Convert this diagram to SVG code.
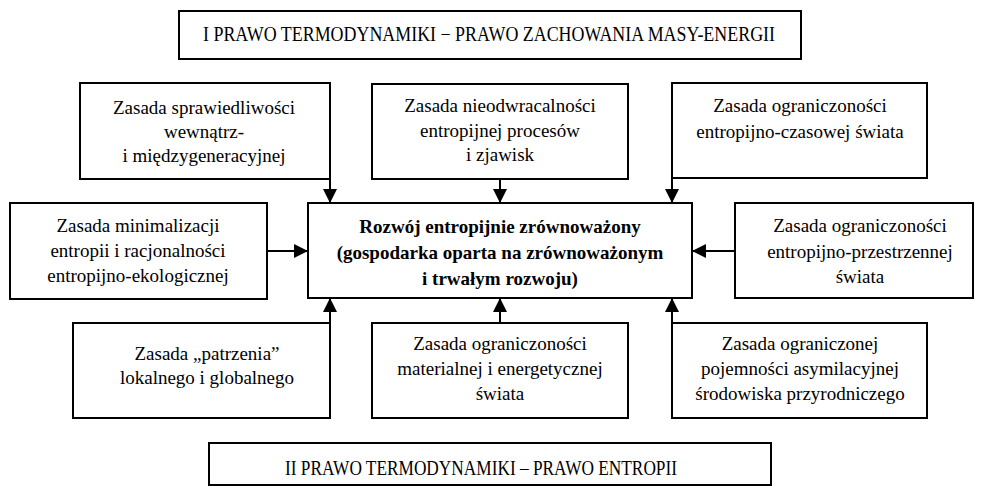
<svg xmlns="http://www.w3.org/2000/svg" width="981" height="486" viewBox="0 0 981 486">
<defs>
<marker id="ah" markerWidth="14" markerHeight="14" refX="14" refY="7" orient="auto" markerUnits="userSpaceOnUse">
<path d="M0,0 L14,7 L0,14 Z" fill="#000"/>
</marker>
<style>
.b{fill:#fff;stroke:#000;stroke-width:2}
.t{font-family:"Liberation Serif","Times New Roman",serif;font-size:19px;fill:#000;text-anchor:middle}
.law{font-size:20px}
.bold{font-weight:bold}
.c{stroke:#000;stroke-width:2;fill:none;marker-end:url(#ah)}
</style>
</defs>
<rect width="981" height="486" fill="#fff"/>
<g id="law1"><rect class="b" x="179" y="11" width="622" height="48"/><text class="t law" x="489" y="41" textLength="572" lengthAdjust="spacingAndGlyphs">I PRAWO TERMODYNAMIKI − PRAWO ZACHOWANIA MASY-ENERGII</text></g>
<g id="n1"><rect class="b" x="80" y="83" width="250" height="96"/><text class="t" x="204" y="114">Zasada sprawiedliwości</text><text class="t" x="204" y="138">wewnątrz-</text><text class="t" x="204" y="162">i międzygeneracyjnej</text></g>
<g id="n2"><rect class="b" x="372" y="84" width="256" height="95"/><text class="t" x="500" y="112">Zasada nieodwracalności</text><text class="t" x="500" y="137">entropijnej procesów</text><text class="t" x="500" y="161">i zjawisk</text></g>
<g id="n3"><rect class="b" x="672" y="83" width="255" height="95"/><text class="t" x="800" y="112">Zasada ograniczoności</text><text class="t" x="800" y="138">entropijno-czasowej świata</text></g>
<g id="n4"><rect class="b" x="10" y="203" width="257" height="96"/><text class="t" x="138" y="232">Zasada minimalizacji</text><text class="t" x="138" y="257">entropii i racjonalności</text><text class="t" x="138" y="282">entropijno-ekologicznej</text></g>
<g id="center"><rect class="b" x="308" y="203" width="384" height="95"/><text class="t bold" x="500" y="233">Rozwój entropijnie zrównoważony</text><text class="t bold" x="500" y="259">(gospodarka oparta na zrównoważonym</text><text class="t bold" x="500" y="285">i trwałym rozwoju)</text></g>
<g id="n5"><rect class="b" x="735" y="203" width="238" height="95"/><text class="t" x="860" y="232">Zasada ograniczoności</text><text class="t" x="860" y="258">entropijno-przestrzennej</text><text class="t" x="860" y="283">świata</text></g>
<g id="n6"><rect class="b" x="73" y="323" width="257" height="95"/><text class="t" x="207" y="360">Zasada „patrzenia”</text><text class="t" x="207" y="384">lokalnego i globalnego</text></g>
<g id="n7"><rect class="b" x="372" y="323" width="256" height="95"/><text class="t" x="500" y="350">Zasada ograniczoności</text><text class="t" x="500" y="375">materialnej i energetycznej</text><text class="t" x="500" y="400">świata</text></g>
<g id="n8"><rect class="b" x="672" y="323" width="255" height="95"/><text class="t" x="800" y="350">Zasada ograniczonej</text><text class="t" x="800" y="375">pojemności asymilacyjnej</text><text class="t" x="800" y="400">środowiska przyrodniczego</text></g>
<g id="law2"><rect class="b" x="209" y="443" width="562" height="42"/><text class="t law" x="481" y="475" textLength="392" lengthAdjust="spacingAndGlyphs">II PRAWO TERMODYNAMIKI – PRAWO ENTROPII</text></g>
<g id="connectors">
<line class="c" x1="330" y1="179" x2="330" y2="203"/>
<line class="c" x1="500" y1="179" x2="500" y2="203"/>
<line class="c" x1="672" y1="178" x2="672" y2="203"/>
<line class="c" x1="267" y1="251" x2="308" y2="251"/>
<line class="c" x1="735" y1="251" x2="692" y2="251"/>
<line class="c" x1="330" y1="323" x2="330" y2="298"/>
<line class="c" x1="500" y1="323" x2="500" y2="298"/>
<line class="c" x1="672" y1="323" x2="672" y2="298"/>
</g>
</svg>
